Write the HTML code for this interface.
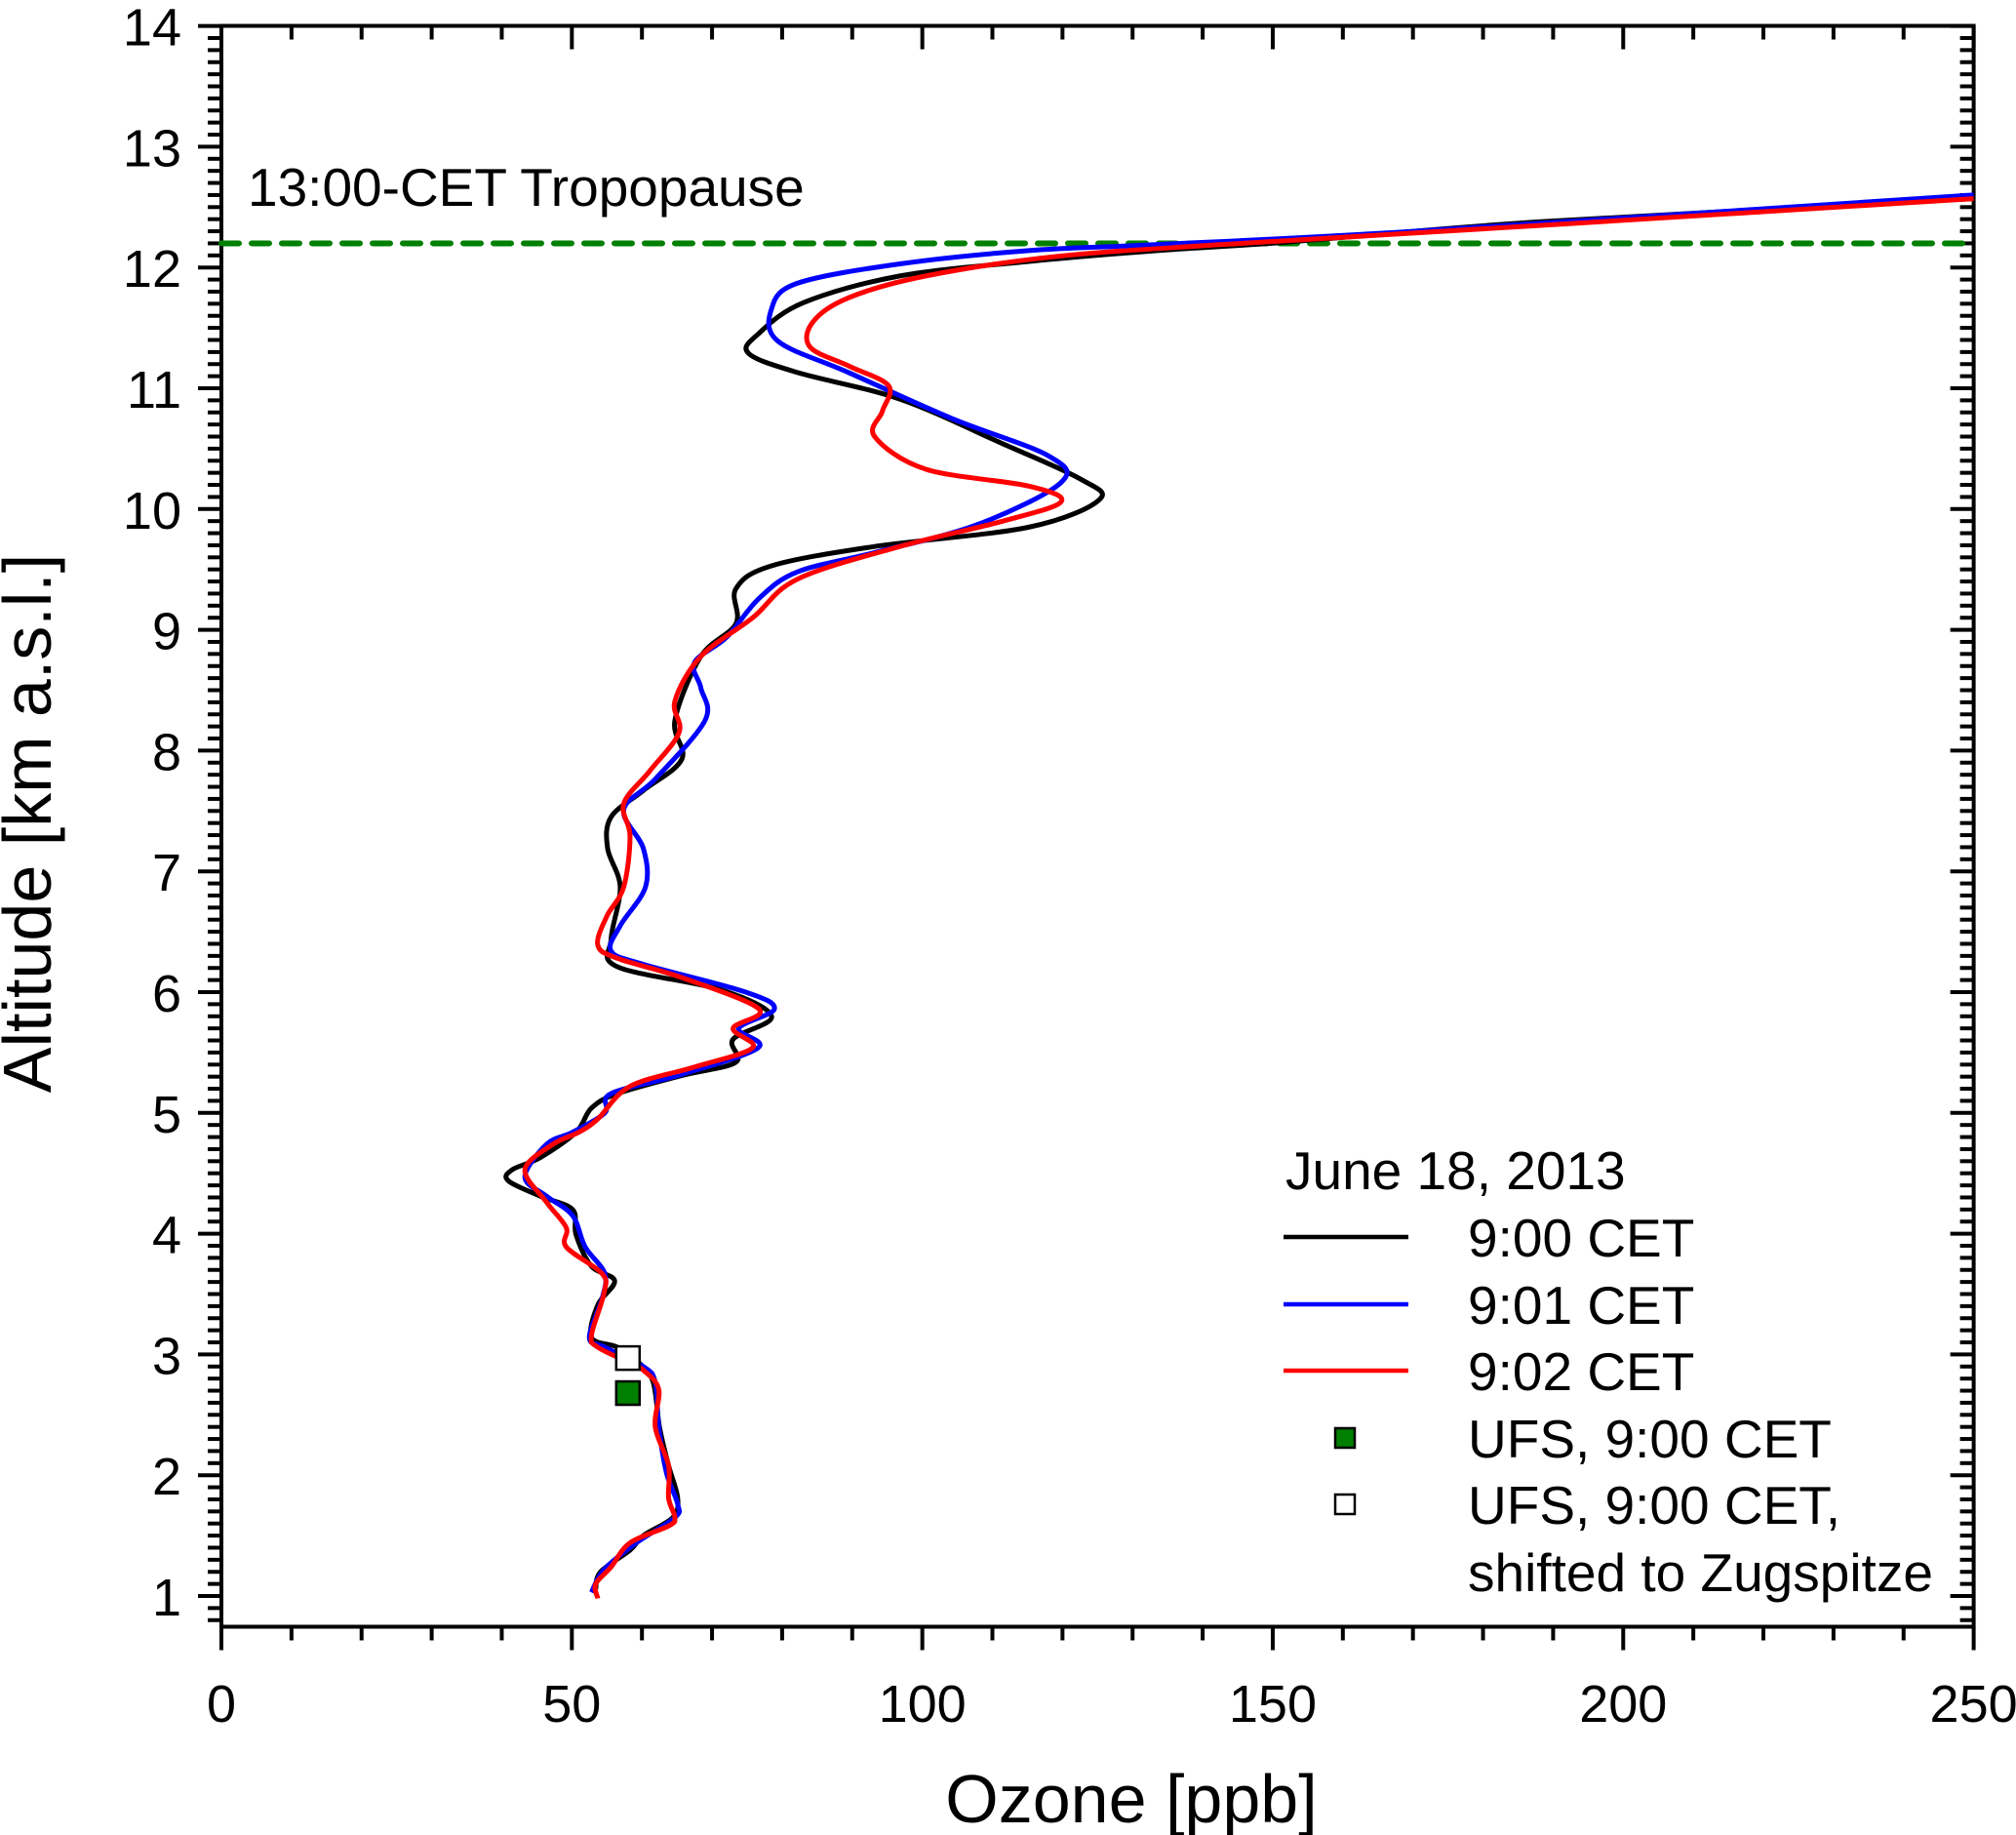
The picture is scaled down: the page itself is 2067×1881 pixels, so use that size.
<!DOCTYPE html>
<html><head><meta charset="utf-8"><style>
html,body{margin:0;padding:0;background:#fff;}
svg{display:block;font-family:"Liberation Sans",Arial,sans-serif;}
</style></head><body>
<svg id="chart" width="2067" height="1881" viewBox="0 0 2067 1881" xmlns="http://www.w3.org/2000/svg">
<defs><clipPath id="plotclip"><rect x="227" y="27" width="1797" height="1641"/></clipPath></defs>
<g id="axes"></g>
<g id="series" clip-path="url(#plotclip)"></g>
<text x="254" y="211" font-size="55">13:00-CET Tropopause</text>
<text x="1160" y="1868" font-size="70" text-anchor="middle">Ozone [ppb]</text>
<text transform="translate(52,844) rotate(-90)" font-size="70" text-anchor="middle">Altitude [km a.s.l.]</text>
<g id="legend"></g>
</svg>
<script>
const xTicks=[0,50,100,150,200,250];
const yTicks=[1,2,3,4,5,6,7,8,9,10,11,12,13,14];
const tropopauseKm=12.2;
const seriesNames=["9:00 CET","9:01 CET","9:02 CET"];
const seriesColors=["#000000","#0000ff","#ff0000"];
const black=[[53.4,1.06],[54.1,1.2],[58.3,1.38],[60.2,1.5],[64.4,1.65],[65.1,1.81],[63.8,2.08],[62.5,2.4],[61.6,2.77],[59.6,2.93],[56.5,3.06],[52.8,3.14],[53.7,3.41],[56.1,3.61],[52.8,3.73],[50.6,3.99],[50.1,4.2],[45.5,4.31],[40.9,4.44],[41.5,4.53],[45.5,4.63],[50.6,4.84],[52.8,5.04],[56.5,5.16],[65.7,5.31],[73.4,5.42],[73,5.61],[78.5,5.8],[71.2,6.02],[56.5,6.21],[55.6,6.44],[56.9,6.87],[55.1,7.19],[55.6,7.45],[60.2,7.67],[65.7,7.93],[64.7,8.25],[68.4,8.78],[73.4,9.05],[73.4,9.34],[78.5,9.53],[93.2,9.69],[115.2,9.85],[125.3,10.08],[122.5,10.25],[111.5,10.54],[96.8,10.91],[82.2,11.13],[75.2,11.29],[76.6,11.45],[83.1,11.71],[96.8,11.93],[115.2,12.05],[133.5,12.14],[151.9,12.21],[188.6,12.38],[250,12.57]];
const blue=[[52.8,1.03],[54.6,1.22],[59.2,1.44],[64.7,1.65],[65.1,1.76],[63.5,2.02],[62.4,2.4],[61.9,2.77],[60.2,2.9],[54.7,3.06],[52.5,3.14],[54.3,3.46],[54.7,3.67],[51.9,3.89],[50.1,4.15],[46.4,4.31],[43.3,4.47],[46.4,4.74],[50.1,4.84],[54.7,5.0],[55.6,5.16],[65.7,5.32],[76.6,5.54],[73.8,5.7],[78.9,5.86],[74.8,6.0],[60.2,6.23],[55.6,6.34],[56.9,6.55],[60.5,6.87],[60.2,7.19],[57.4,7.51],[62,7.77],[69,8.25],[68.4,8.52],[67.5,8.73],[72.1,8.94],[76.7,9.26],[82.2,9.48],[93.2,9.64],[107.8,9.87],[119.8,10.22],[118,10.44],[104.2,10.75],[89.5,11.13],[79.4,11.39],[78.5,11.66],[82.2,11.87],[96.8,12.03],[115.2,12.14],[133.5,12.19],[170.2,12.3],[250,12.6]];
const red=[[53.7,0.98],[53.4,1.1],[55.6,1.24],[58.3,1.44],[63.8,1.58],[64.7,1.65],[63.8,1.81],[63.8,2.08],[61.9,2.4],[62.4,2.71],[60.2,2.87],[58.3,2.93],[53.7,3.06],[52.8,3.16],[54.6,3.51],[54.3,3.67],[49.2,3.89],[49.2,4.05],[46.4,4.26],[43.3,4.53],[47.3,4.74],[51,4.84],[53.7,4.95],[58.3,5.22],[67.5,5.38],[75.8,5.54],[73,5.7],[76.7,5.86],[65.7,6.12],[56.5,6.28],[53.7,6.39],[55,6.63],[57.4,6.87],[58.3,7.29],[57.4,7.56],[61.1,7.83],[65.3,8.15],[64.7,8.41],[68.4,8.78],[75.8,9.1],[82.2,9.42],[96.8,9.69],[111.5,9.9],[119.8,10.06],[115.2,10.19],[100.5,10.33],[93.2,10.6],[94.3,10.81],[95.2,11.02],[89.7,11.18],[84,11.34],[84.4,11.55],[89.5,11.75],[100.5,11.93],[118.9,12.09],[142.7,12.19],[188.6,12.35],[250,12.57]];
const ufsPoint=[58,2.68];
const ufsShifted=[58,2.97];

const NS="http://www.w3.org/2000/svg";
const L=227,R=2023.6,T=26.5,B=1667.5;
function X(v){return L+(v-0)*(R-L)/250;}
function Y(k){return 1636-(k-1)*123.8;}
function mk(tag,attrs,parent){const e=document.createElementNS(NS,tag);for(const k in attrs)e.setAttribute(k,attrs[k]);parent.appendChild(e);return e;}
const axes=document.getElementById('axes');
const frame=mk('rect',{x:L,y:T,width:R-L,height:B-T,fill:'none',stroke:'#000','stroke-width':4},axes);


for(let v=0;v<=250;v+=10){
  const maj=v%50===0,x=X(v),len=maj?24:14;
  const t1=mk('line',{x1:x,x2:x,y1:B,y2:B+len,stroke:'#000','stroke-width':4},axes);
  
  
  const t2=mk('line',{x1:x,x2:x,y1:T,y2:T+len,stroke:'#000','stroke-width':4},axes);
  
  
}
xTicks.forEach(v=>{
  const t=mk('text',{x:X(v),y:1765,'font-size':54,'text-anchor':'middle'},axes);t.textContent=v;
  
  
});
for(let i=8;i<=140;i++){
  const k=i/10,y=Y(k),maj=i%10===0,len=maj?24:14;
  if(y>B+0.5||y<T-0.5)continue;
  const t1=mk('line',{x1:L,x2:L-len,y1:y,y2:y,stroke:'#000','stroke-width':4},axes);
  
  
  const t2=mk('line',{x1:R,x2:R-len,y1:y,y2:y,stroke:'#000','stroke-width':4},axes);
  
  
}
yTicks.forEach(k=>{
  const t=mk('text',{x:186,y:Y(k)+20,'font-size':54,'text-anchor':'end'},axes);t.textContent=k;
  
  
});
const tp=mk('line',{x1:L,x2:R,y1:Y(tropopauseKm),y2:Y(tropopauseKm),stroke:'#007f00','stroke-width':6,'stroke-dasharray':'18 13','stroke-linecap':'round'},axes);


function smoothPath(pts){
  const p=pts.map(d=>[X(d[0]),Y(d[1])]);
  let s='M'+p[0][0]+','+p[0][1];
  for(let i=0;i<p.length-1;i++){
    const p0=p[Math.max(0,i-1)],p1=p[i],p2=p[i+1],p3=p[Math.min(p.length-1,i+2)];
    const c1=[p1[0]+(p2[0]-p0[0])/6,p1[1]+(p2[1]-p0[1])/6];
    const c2=[p2[0]-(p3[0]-p1[0])/6,p2[1]-(p3[1]-p1[1])/6];
    s+=' C'+c1[0]+','+c1[1]+' '+c2[0]+','+c2[1]+' '+p2[0]+','+p2[1];
  }
  return s;
}
const sg=document.getElementById('series');
[black,blue,red].forEach((d,i)=>{
  const p=mk('path',{d:smoothPath(d),fill:'none',stroke:seriesColors[i],'stroke-width':5,'stroke-linejoin':'round'},sg);
  
  
});
const m1=mk('rect',{x:X(ufsPoint[0])-12,y:Y(ufsPoint[1])-12,width:24,height:24,fill:'#007f00',stroke:'#000','stroke-width':2.5},sg);


const m2=mk('rect',{x:X(ufsShifted[0])-12,y:Y(ufsShifted[1])-12,width:24,height:24,fill:'#fff',stroke:'#000','stroke-width':2.5},sg);


const lg=document.getElementById('legend');
const lt=mk('text',{x:1318,y:1219,'font-size':55},lg);lt.textContent='June 18, 2013';


const rows=[1268,1337,1405];
seriesNames.forEach((n,i)=>{
  const ln=mk('line',{x1:1316,x2:1444,y1:rows[i],y2:rows[i],stroke:seriesColors[i],'stroke-width':4.5},lg);
  
  
  const t=mk('text',{x:1505,y:rows[i]+20,'font-size':55},lg);t.textContent=n;
  
  
});
const lm1=mk('rect',{x:1369,y:1464,width:20,height:20,fill:'#007f00',stroke:'#000','stroke-width':2.5},lg);


const lt1=mk('text',{x:1505,y:1494,'font-size':55},lg);lt1.textContent='UFS, 9:00 CET';


const lm2=mk('rect',{x:1369,y:1532,width:20,height:20,fill:'#fff',stroke:'#000','stroke-width':2.5},lg);


const lt2=mk('text',{x:1505,y:1562,'font-size':55},lg);lt2.textContent='UFS, 9:00 CET,';


const lt3=mk('text',{x:1505,y:1631,'font-size':55},lg);lt3.textContent='shifted to Zugspitze';


</script>
</body></html>
